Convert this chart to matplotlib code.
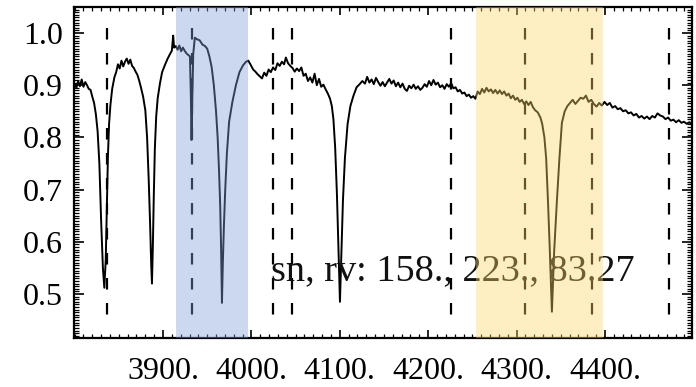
import matplotlib
matplotlib.use("Agg")
import matplotlib.pyplot as plt
from matplotlib.ticker import FixedLocator, MultipleLocator, FixedFormatter

plt.rcParams['font.family'] = ['Liberation Serif', 'DejaVu Serif']
plt.rcParams['lines.scale_dashes'] = False

# ---- data ----
wavelength = [
    3800, 3802, 3804, 3806, 3808, 3810, 3812, 3814, 3816, 3818, 3820, 3822, 3824, 3826, 3828, 3830, 3832,
    3833.6, 3835.2, 3836.5, 3837.7, 3839, 3840.5, 3842.5, 3845, 3847, 3849, 3851, 3853, 3855, 3857, 3859,
    3861, 3863, 3865, 3867, 3869, 3871, 3873, 3875, 3877.5, 3880, 3882, 3883.8, 3885.3, 3886.6, 3887.5,
    3888.5, 3889.6, 3890.8, 3892.3, 3894, 3896.5, 3899, 3902, 3905, 3908, 3910, 3911.5, 3912.5, 3914.5,
    3916.5, 3918.5, 3920.5, 3922.5, 3924.5, 3926.5, 3928.5, 3930.5, 3931.5, 3932.3, 3933.2, 3934.2, 3936,
    3938.5, 3941.5, 3944.5, 3947.5, 3950, 3952.5, 3955, 3957.5, 3960, 3961.8, 3963.3, 3964.7, 3965.8,
    3966.7, 3967.7, 3968.9, 3970.4, 3972.3, 3974.8, 3978.5, 3982.5, 3986.5, 3990.5, 3994, 3996.5, 3999.5,
    4002, 4004.5, 4007, 4009.5, 4012, 4014.5, 4017, 4019.5, 4022, 4024.5, 4027, 4029.5, 4032, 4034.5,
    4037, 4039, 4041.5, 4044, 4046.5, 4049, 4051.5, 4054, 4056.5, 4059, 4061.5, 4064, 4066.5, 4069,
    4071.5, 4074, 4076.5, 4079, 4081.5, 4084, 4086.5, 4089, 4091, 4092.8, 4094.8, 4096.8, 4098.5, 4100.2,
    4101.8, 4103.6, 4105.8, 4108.8, 4112, 4115.5, 4119, 4122.5, 4125.5, 4128.5, 4131, 4133.5, 4136,
    4138.5, 4141, 4143.5, 4146, 4148.5, 4151, 4153.5, 4156, 4158.5, 4161, 4163.5, 4166, 4168.5, 4171,
    4173.5, 4176, 4178.5, 4181, 4183.5, 4186, 4188.5, 4191, 4193.5, 4196, 4198.5, 4201, 4203.5, 4206,
    4208.5, 4211, 4213.5, 4216, 4218.5, 4221, 4223.5, 4226, 4228.5, 4231, 4233.5, 4236, 4238.5, 4241,
    4243.5, 4246, 4248.5, 4251, 4253.5, 4256, 4258.5, 4261, 4263.5, 4266, 4268.5, 4271, 4273.5, 4276,
    4278.5, 4281, 4283.5, 4286, 4288.5, 4291, 4293.5, 4296, 4298.5, 4301, 4303.5, 4306, 4308.5, 4311,
    4313.5, 4316, 4318.5, 4321, 4324, 4327, 4329, 4331.5, 4333.5, 4335.5, 4337.5, 4340, 4342.5, 4345.7,
    4348.5, 4351.3, 4354.5, 4357.5, 4360.5, 4363.5, 4366.5, 4369.5, 4372.5, 4375.5, 4378.5, 4381.5,
    4384.5, 4387.5, 4390.5, 4393.5, 4396.5, 4399.5, 4402.5, 4405.5, 4408.5, 4411.5, 4414.5, 4417.5,
    4420.5, 4423.5, 4426.5, 4429.5, 4432.5, 4435.5, 4438.5, 4441.5, 4444.5, 4447.5, 4450.5, 4453.5,
    4456.5, 4459.5, 4462.5, 4465.5, 4468.5, 4471.5, 4474.5, 4477.5, 4480.5, 4483.5, 4486.5, 4489.5,
    4492.5, 4495.5, 4498.5,
]
flux = [
    0.902, 0.895, 0.908, 0.898, 0.911, 0.897, 0.906, 0.900, 0.893, 0.891, 0.878, 0.866, 0.845, 0.812, 0.750, 0.640, 0.550,
    0.512, 0.565, 0.665, 0.765, 0.826, 0.862, 0.893, 0.915, 0.925, 0.940, 0.932, 0.947, 0.936, 0.945, 0.951,
    0.941, 0.949, 0.937, 0.933, 0.926, 0.920, 0.909, 0.896, 0.878, 0.852, 0.800, 0.720, 0.640, 0.560, 0.520,
    0.590, 0.690, 0.780, 0.840, 0.875, 0.903, 0.925, 0.938, 0.950, 0.960, 0.966, 0.995, 0.972, 0.975,
    0.968, 0.976, 0.965, 0.972, 0.966, 0.961, 0.958, 0.955, 0.880, 0.795, 0.880, 0.960, 0.991,
    0.988, 0.986, 0.978, 0.975, 0.970, 0.955, 0.935, 0.900, 0.850, 0.800, 0.740, 0.670, 0.580,
    0.483, 0.560, 0.630, 0.700, 0.770, 0.830, 0.868, 0.900, 0.925, 0.938, 0.945, 0.947, 0.938,
    0.930, 0.926, 0.921, 0.917, 0.913, 0.924, 0.918, 0.930, 0.925, 0.934, 0.929, 0.942, 0.937, 0.945,
    0.940, 0.953, 0.942, 0.937, 0.933, 0.926, 0.932, 0.927, 0.934, 0.918, 0.922, 0.908, 0.915, 0.905,
    0.922, 0.900, 0.912, 0.897, 0.901, 0.892, 0.884, 0.874, 0.860, 0.835, 0.780, 0.690, 0.590, 0.485,
    0.580, 0.680, 0.760, 0.825, 0.860, 0.880, 0.896, 0.902, 0.908, 0.903, 0.916, 0.905, 0.911,
    0.902, 0.914, 0.906, 0.899, 0.906, 0.898, 0.905, 0.912, 0.903, 0.909, 0.898, 0.905, 0.896, 0.903,
    0.893, 0.889, 0.899, 0.894, 0.901, 0.893, 0.898, 0.891, 0.895, 0.902, 0.897, 0.908, 0.900, 0.910,
    0.901, 0.905, 0.896, 0.900, 0.893, 0.902, 0.897, 0.904, 0.894, 0.896, 0.888, 0.891, 0.884, 0.886,
    0.879, 0.882, 0.876, 0.879, 0.874, 0.888, 0.883, 0.893, 0.886, 0.895, 0.888, 0.892, 0.885, 0.891,
    0.884, 0.890, 0.883, 0.888, 0.880, 0.884, 0.875, 0.880, 0.872, 0.876, 0.868, 0.872, 0.864, 0.869,
    0.862, 0.868, 0.858, 0.852, 0.848, 0.838, 0.826, 0.800, 0.760, 0.680, 0.590, 0.466, 0.580, 0.680,
    0.760, 0.828, 0.850, 0.860, 0.866, 0.872, 0.864, 0.870, 0.876, 0.874, 0.880, 0.868,
    0.872, 0.864, 0.859, 0.866, 0.861, 0.868, 0.862, 0.866, 0.857, 0.860, 0.854, 0.856,
    0.850, 0.852, 0.846, 0.848, 0.842, 0.845, 0.838, 0.841, 0.836, 0.840, 0.835, 0.841,
    0.838, 0.846, 0.842, 0.840, 0.835, 0.838, 0.832, 0.834, 0.829, 0.833, 0.828, 0.830,
    0.826, 0.829, 0.825,
]

line_marks = [3836.5, 3933, 4024, 4046, 4226, 4309.5, 4385, 4472]
mark_top, mark_bottom = 1.01, 0.45

blue_band = (3914.7, 3996.2)
yellow_band = (4254, 4397.7)

x_ticks = [3900, 4000, 4100, 4200, 4300, 4400]
x_labels = ["3900.", "4000.", "4100.", "4200.", "4300.", "4400."]
y_ticks = [0.5, 0.6, 0.7, 0.8, 0.9, 1.0]
y_labels = ["0.5", "0.6", "0.7", "0.8", "0.9", "1.0"]

annotation = "sn, rv: 158., 223., 83.27"

# ---- figure ----
fig = plt.figure(figsize=(6.96, 3.87), dpi=100)
ax = fig.add_axes([74/696, 1-338/387, (692-74)/696, (338-7)/387])

ax.plot(wavelength, flux, color='black', lw=1.4, zorder=2)

for lm in line_marks:
    ax.plot([lm, lm], [mark_top, mark_bottom], color='black', lw=1.6,
            linestyle=(0, (8.3, 9.7)), zorder=2)

ax.text(4022, 0.526, annotation, fontsize=27.5, ha='left', va='baseline',
        color='#111111', zorder=3)

ax.axvspan(*blue_band, color='#809ED4', alpha=0.4, lw=0, zorder=5)
ax.axvspan(*yellow_band, color='#FAD766', alpha=0.4, lw=0, zorder=5)

ax.set_xlim(3799.3, 4498.5)
ax.set_ylim(0.4157, 1.0498)

ax.xaxis.set_major_locator(FixedLocator(x_ticks))
ax.xaxis.set_major_formatter(FixedFormatter(x_labels))
ax.xaxis.set_minor_locator(MultipleLocator(10))
ax.yaxis.set_major_locator(FixedLocator(y_ticks))
ax.yaxis.set_major_formatter(FixedFormatter(y_labels))
ax.yaxis.set_minor_locator(MultipleLocator(0.005))

ax.tick_params(which='both', direction='in', top=True, right=True, colors='black')
ax.tick_params(axis='x', which='major', length=5.5, width=1.2, pad=14, labelsize=23)
ax.tick_params(axis='x', which='minor', length=2.8, width=0.9)
ax.tick_params(axis='y', which='major', length=7.5, width=1.2, pad=8, labelsize=23)
ax.tick_params(axis='y', which='minor', length=3.6, width=0.9)

for s in ax.spines.values():
    s.set_linewidth(1.6)

fig.savefig("out.png", dpi=100)
